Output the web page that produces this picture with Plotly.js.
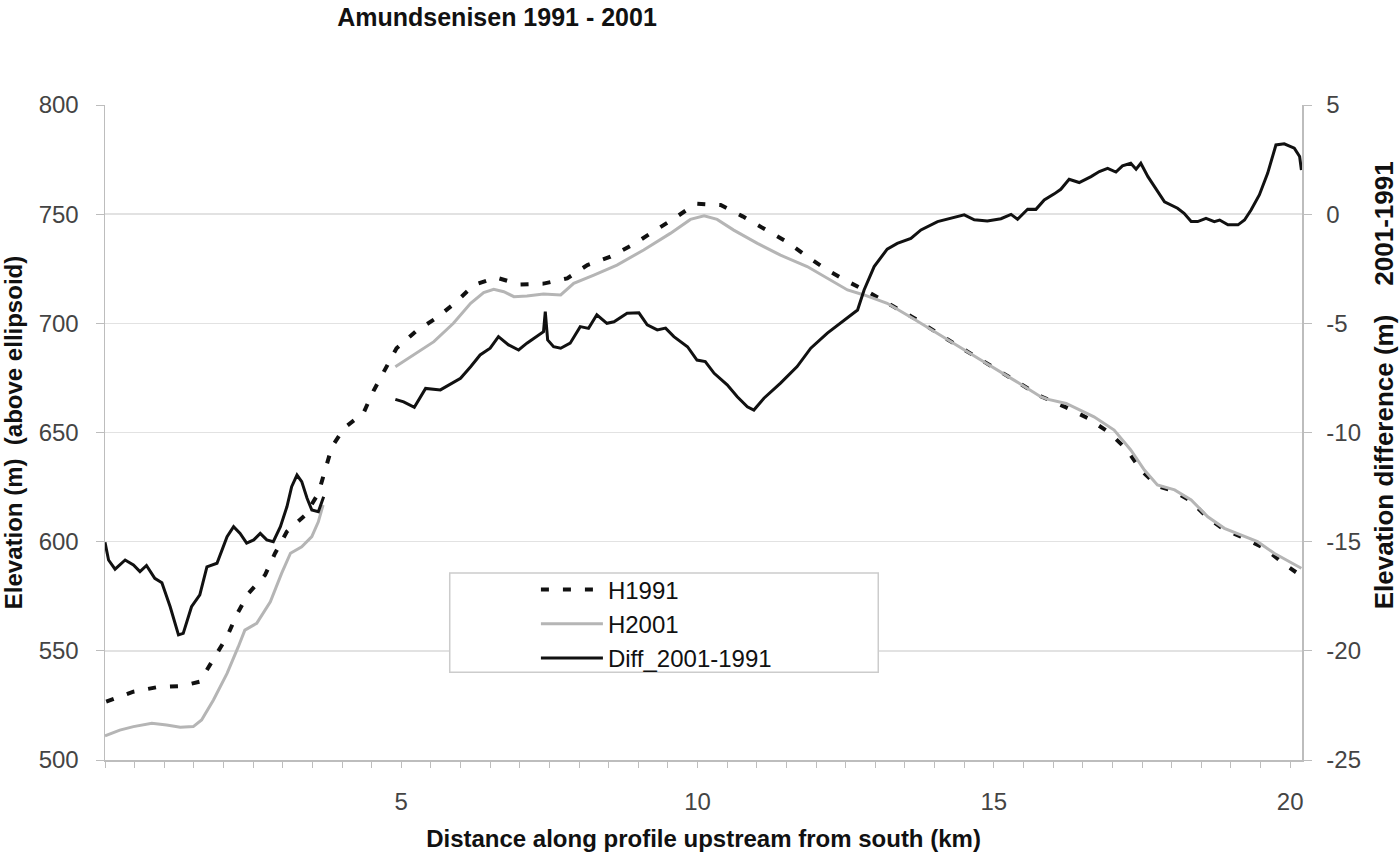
<!DOCTYPE html>
<html>
<head>
<meta charset="utf-8">
<script src="https://cdn.plot.ly/plotly-3.0.1.min.js"></script>
<style>html,body{margin:0;padding:0;background:#fff;}#chart{width:1400px;height:860px;}</style>
</head>
<body>
<div id="chart"></div>
<script>
// ---- Data ----
var h1991X = [0.02,0.48,0.87,1.30,1.60,1.83,2.06,2.22,2.42,2.70,2.87,3.07,3.38,3.60,3.72,3.83,4.04,4.36,4.53,4.72,4.92,5.24,5.60,5.91,6.22,6.60,7.00,7.40,7.80,8.14,8.53,8.90,9.26,9.63,9.97,10.39,10.76,11.14,11.50,11.85,12.19,12.56,12.90,13.30,13.65,14.22,14.78,15.34,15.79,16.22,16.59,16.95,17.25,17.48,17.76,18.05,18.33,18.61,18.89,19.17,19.57,19.92,20.10];
var h1991Y = [526.7,531.3,533.3,533.9,535.9,546.6,556.5,566.4,576.3,584.7,594.7,604.6,612.2,622.1,632.8,643.5,652.2,658.8,669.0,678.8,688.6,696.2,702.6,709.4,717.5,721.0,717.8,718.2,720.6,726.7,730.5,735.9,742.0,748.5,754.8,754.2,749.0,743.2,737.4,730.6,724.4,718.8,714.0,707.8,702.5,692.6,683.4,674.2,666.6,661.5,656.5,649.9,642.0,632.8,625.5,623.0,618.5,610.8,605.5,602.3,596.9,589.3,586.0];

var h2001X = [0,0.25,0.48,0.79,1.04,1.27,1.49,1.63,1.83,2.06,2.25,2.36,2.56,2.79,2.98,3.13,3.32,3.49,3.60,3.68,null,4.90,5.21,5.55,5.88,6.17,6.39,6.56,6.73,6.90,7.12,7.40,7.69,7.91,8.25,8.64,9.09,9.54,9.88,10.11,10.33,10.61,11.01,11.40,11.85,12.25,12.53,12.81,13.20,13.65,14.22,14.78,15.34,15.79,15.90,16.22,16.69,17.03,17.31,17.54,17.76,18.05,18.33,18.61,18.89,19.17,19.45,19.73,20.19];
var h2001Y = [511.0,513.7,515.3,516.8,516.0,515.0,515.3,518.3,527.5,539.7,551.9,559.5,562.6,572.5,585.5,594.7,597.7,602.3,609.1,616.8,null,680.1,685.5,691.6,700.0,709.2,714.1,715.6,714.5,712.2,712.5,713.4,713.0,718.3,722.1,726.7,733.6,741.2,747.6,749.2,747.6,742.7,736.6,731.2,726.0,719.8,715.3,713.0,709.2,702.0,692.4,683.2,674.0,666.4,665.3,663.3,657.2,651.1,642.0,632.8,626.0,623.7,619.1,611.4,606.1,603.1,600.0,594.7,587.8];

var diffX = [0,0.06,0.17,0.34,0.48,0.59,0.70,0.84,0.96,1.10,1.24,1.32,1.46,1.60,1.72,1.89,2.06,2.17,2.28,2.39,2.51,2.62,2.73,2.84,2.96,3.07,3.15,3.24,3.32,3.41,3.49,3.60,3.69,null,
  4.90,5.04,5.22,5.41,5.66,5.86,6.00,6.17,6.33,6.50,6.64,6.81,6.98,7.12,7.32,7.40,7.43,7.47,7.57,7.69,7.85,8.02,8.16,8.30,8.47,8.59,8.81,9.01,9.15,9.32,9.46,9.60,9.83,9.99,10.13,10.28,10.50,10.67,10.84,10.95,11.12,11.40,11.68,11.91,12.19,12.47,12.70,12.81,12.98,13.20,13.37,13.60,13.77,14.05,14.22,14.50,14.67,14.89,15.12,15.29,15.40,15.57,15.71,15.85,16.02,16.13,16.27,16.44,16.64,16.78,16.92,17.06,17.17,17.31,17.40,17.48,17.60,17.71,17.88,18.10,18.21,18.33,18.44,18.58,18.72,18.81,18.95,19.12,19.23,19.34,19.48,19.62,19.76,19.90,20.07,20.16,20.19];
var diffY = [-15.03,-15.84,-16.26,-15.84,-16.07,-16.37,-16.09,-16.68,-16.88,-17.98,-19.27,-19.20,-17.98,-17.44,-16.15,-15.99,-14.77,-14.31,-14.62,-15.07,-14.92,-14.62,-14.92,-15.00,-14.31,-13.40,-12.48,-11.95,-12.25,-13.01,-13.55,-13.63,-12.94,null,
  -8.48,-8.60,-8.85,-7.98,-8.05,-7.75,-7.52,-6.99,-6.45,-6.14,-5.61,-5.99,-6.22,-5.91,-5.53,-5.38,-4.46,-5.76,-6.07,-6.14,-5.91,-5.15,-5.23,-4.61,-5.00,-4.93,-4.54,-4.52,-5.07,-5.30,-5.22,-5.61,-6.07,-6.68,-6.75,-7.29,-7.82,-8.36,-8.82,-8.97,-8.43,-7.74,-6.98,-6.14,-5.45,-4.85,-4.39,-3.47,-2.40,-1.60,-1.34,-1.11,-0.72,-0.34,-0.23,-0.03,-0.26,-0.31,-0.21,-0.01,-0.23,0.23,0.22,0.65,0.93,1.14,1.60,1.45,1.72,1.95,2.10,1.93,2.21,2.33,2.06,2.33,1.72,1.26,0.57,0.27,0.04,-0.34,-0.34,-0.19,-0.34,-0.27,-0.49,-0.49,-0.27,0.19,0.88,1.87,3.17,3.22,3.02,2.64,2.02];

var seriesNames = ["H1991", "H2001", "Diff_2001-1991"];
var chartTitle = "Amundsenisen 1991 - 2001";
var xTitle = "Distance along profile upstream from south (km)";
var yTitle = "Elevation (m)  (above ellipsoid)";
var y2Title = "Elevation difference (m)\u00a0\u00a0\u00a0\u00a02001-1991";
var xTickVals = [5, 10, 15, 20];
var y2TickVals = [-25, -20, -15, -10, -5, 0, 5];
var y2TickText = ["-25", "-20", "-15", "-10", "-5", "0", "5"];

// ---- Chart ----
var FONT = "Liberation Sans, Arial, sans-serif";
var traces = [
  {x: h1991X, y: h1991Y, name: seriesNames[0], type: "scatter", mode: "lines",
   line: {color: "#111111", width: 4, dash: "8px,14px"}, yaxis: "y"},
  {x: h2001X, y: h2001Y, name: seriesNames[1], type: "scatter", mode: "lines", connectgaps: false,
   line: {color: "#b5b5b5", width: 3}, yaxis: "y"},
  {x: diffX, y: diffY, name: seriesNames[2], type: "scatter", mode: "lines", connectgaps: false,
   line: {color: "#111111", width: 3}, yaxis: "y2"}
];

var axisGrey = "#bdbdbd";
var layout = {
  width: 1400, height: 860,
  margin: {l: 105, r: 98, t: 105, b: 100, pad: 0},
  paper_bgcolor: "#ffffff", plot_bgcolor: "#ffffff",
  font: {family: FONT, size: 24, color: "#444444"},
  showlegend: true,
  title: {text: chartTitle, x: 0.355, xanchor: "center", xref: "container",
          y: 0.98, yanchor: "middle", yref: "container",
          font: {family: FONT, size: 25, weight: "bold", color: "#111111"}},
  xaxis: {
    range: [0, 20.2], tickmode: "array", tickvals: xTickVals,
    ticks: "outside", ticklen: 6, tickcolor: axisGrey, tickwidth: 1,
    showline: true, linecolor: axisGrey, linewidth: 1.5, showgrid: false, zeroline: false,
    tickfont: {family: FONT, size: 24, color: "#444444"}, ticklabelstandoff: 14,
    minor: {tickmode: "linear", tick0: 0, dtick: 0.5, ticks: "outside", ticklen: 6, tickcolor: axisGrey, showgrid: false},
    title: {text: xTitle, standoff: 16, font: {family: FONT, size: 24, weight: "bold", color: "#111111"}}
  },
  yaxis: {
    range: [500, 800], tickmode: "linear", tick0: 500, dtick: 50,
    ticks: "outside", ticklen: 8, tickcolor: axisGrey,
    showline: true, linecolor: axisGrey, linewidth: 1.5,
    showgrid: true, gridcolor: "#e2e2e2", gridwidth: 1.5, zeroline: false,
    tickfont: {family: FONT, size: 24, color: "#444444"}, ticklabelstandoff: 12,
    title: {text: yTitle, standoff: 10, font: {family: FONT, size: 24, weight: "bold", color: "#111111"}}
  },
  yaxis2: {
    range: [-25, 5], tickmode: "array", tickvals: y2TickVals, ticktext: y2TickText,
    overlaying: "y", side: "right", anchor: "x",
    ticks: "outside", ticklen: 8, tickcolor: axisGrey,
    showline: true, linecolor: axisGrey, linewidth: 1.5, showgrid: false, zeroline: false,
    tickfont: {family: FONT, size: 24, color: "#444444"}, ticklabelstandoff: 10
  },
  legend: {x: 0.36, y: 0.294, xanchor: "left", yanchor: "top", xref: "paper", yref: "paper",
           bgcolor: "rgba(0,0,0,0)", borderwidth: 0, itemwidth: 62,
           font: {family: FONT, size: 24, color: "#111111"}, tracegroupgap: 0},
  shapes: [{type: "rect", xref: "paper", yref: "paper", x0: 0.288, x1: 0.646, y0: 0.134, y1: 0.2855,
            line: {color: "#cccccc", width: 1.5}, fillcolor: "#ffffff", layer: "above"}],
  annotations: [{text: y2Title, xref: "paper", yref: "paper", x: 1.0685, y: 0.572,
                 xanchor: "center", yanchor: "middle", textangle: -90, showarrow: false,
                 font: {family: FONT, size: 26, weight: "bold", color: "#111111"}}]
};

Plotly.newPlot("chart", traces, layout, {displayModeBar: false, staticPlot: true});
</script>
</body>
</html>
